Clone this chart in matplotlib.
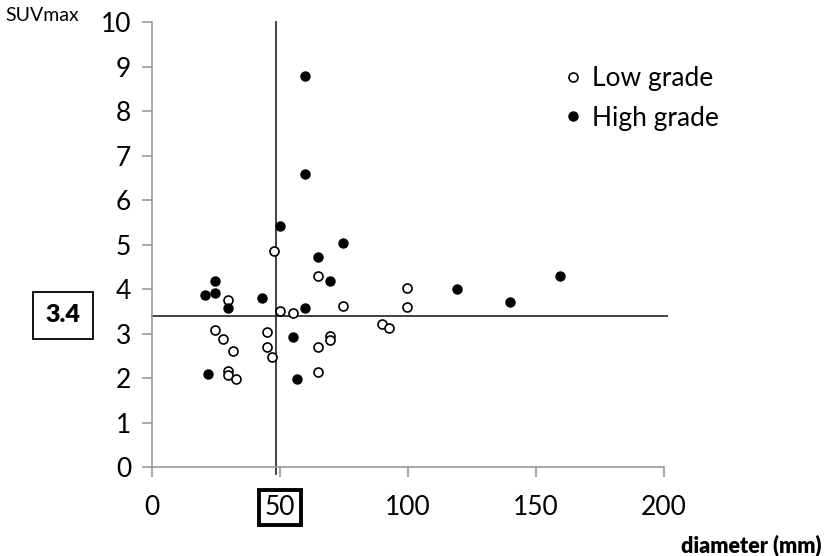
import matplotlib
matplotlib.use("Agg")
import matplotlib.pyplot as plt
from matplotlib.lines import Line2D

plt.rcParams['font.family'] = ['Lato', 'DejaVu Sans']

low_x = [47.8, 64.8, 29.7, 99.6, 74.5, 99.6, 50.0, 55.0, 24.7, 44.9, 27.6, 89.7,
         92.7, 69.7, 69.7, 64.8, 44.9, 31.6, 46.9, 29.7, 29.7, 32.7, 64.8]
low_y = [4.86, 4.30, 3.75, 4.03, 3.63, 3.60, 3.50, 3.46, 3.08, 3.03, 2.87, 3.21,
         3.12, 2.95, 2.86, 2.70, 2.70, 2.61, 2.47, 2.17, 2.06, 1.98, 2.13]
high_x = [59.8, 59.8, 50.0, 74.5, 64.8, 24.7, 69.7, 24.7, 20.8, 43.1, 29.7, 59.8,
          55.0, 21.8, 56.8, 119.3, 139.7, 159.4]
high_y = [8.80, 6.59, 5.42, 5.03, 4.72, 4.18, 4.18, 3.92, 3.86, 3.80, 3.57, 3.57,
          2.93, 2.10, 1.98, 4.00, 3.72, 4.30]

x_ticks = [0, 50, 100, 150, 200]
y_ticks = list(range(0, 11))
cut_suv = 3.4
cut_diam = 48.5

fig = plt.figure(figsize=(8.26, 5.56), dpi=100)
ax = fig.add_axes([0.184, 0.160, 0.620, 0.800])

ax.scatter(low_x, low_y, s=42, facecolors='white', edgecolors='black', linewidths=1.2, zorder=3)
ax.scatter(high_x, high_y, s=42, facecolors='black', edgecolors='black', linewidths=1.0, zorder=3)

ax.plot([0, 201], [cut_suv, cut_suv], color='#333333', lw=1.3, clip_on=False, zorder=2)
ax.plot([cut_diam, cut_diam], [-0.15, 10], color='#333333', lw=1.3, clip_on=False, zorder=2)

ax.set_xlim(0, 200)
ax.set_ylim(0, 10)
ax.set_xticks(x_ticks)
ax.set_yticks(y_ticks)
ax.tick_params(axis='both', direction='out', length=7, width=1.2, color='#999999',
               labelsize=19, pad=8)
ax.tick_params(axis='x', pad=13)
for s in ['top', 'right']:
    ax.spines[s].set_visible(False)
for s in ['left', 'bottom']:
    ax.spines[s].set_color('#999999')
    ax.spines[s].set_linewidth(1.2)

fig.canvas.draw()
for lab in ax.get_xticklabels():
    if lab.get_text() == '50':
        lab.set_bbox(dict(boxstyle='square,pad=0.2', facecolor='white', edgecolor='black', linewidth=2.8))

fig.text(0.006, 0.972, 'SUVmax', fontsize=14, ha='left', va='center')
fig.text(0.0765, 1 - 315 / 556, '3.4', fontsize=18, fontweight='heavy', ha='center', va='center',
         bbox=dict(boxstyle='square,pad=0.5', facecolor='white', edgecolor='black', linewidth=1.3))
fig.text(0.995, 1 - 545 / 556, 'diameter (mm)', fontsize=15.5, fontweight='heavy', ha='right', va='center')

handles = [Line2D([], [], ls='none', marker='o', markersize=6.5, markerfacecolor='white',
                  markeredgecolor='black', markeredgewidth=1.2, label='Low grade'),
           Line2D([], [], ls='none', marker='o', markersize=6.5, markerfacecolor='black',
                  markeredgecolor='black', label='High grade')]
ax.legend(handles=handles, loc='upper left', bbox_to_anchor=(0.775, 0.925), frameon=False,
          fontsize=19, handletextpad=0.25, handlelength=1.0, labelspacing=0.55, borderaxespad=0)

fig.savefig('out.png', dpi=100)
